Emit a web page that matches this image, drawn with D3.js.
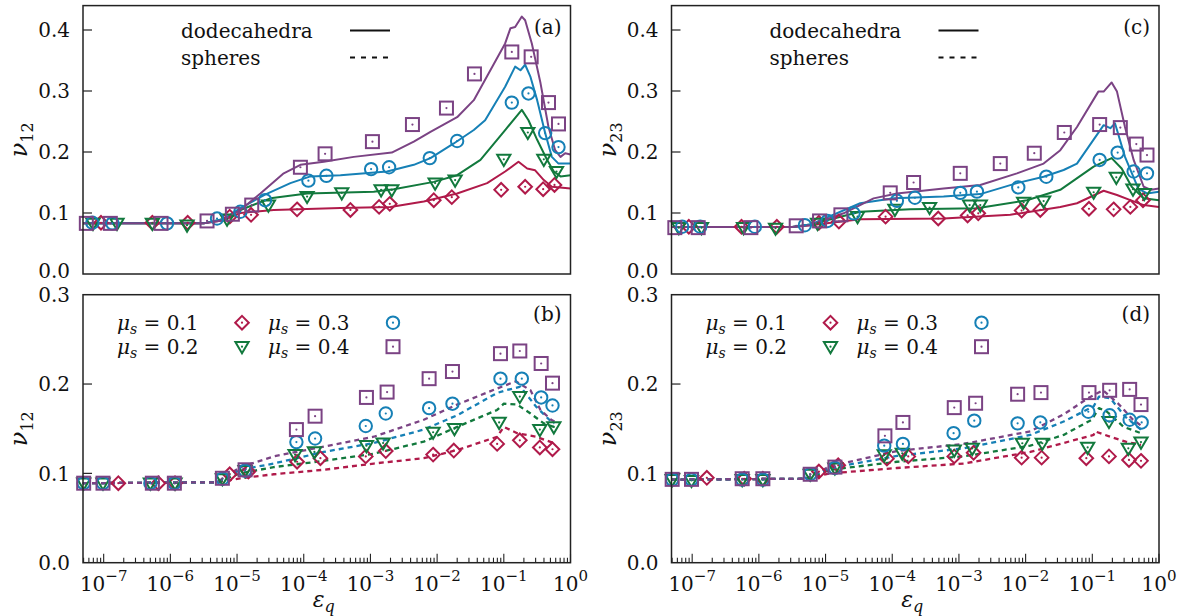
<!DOCTYPE html>
<html><head><meta charset="utf-8">
<script src="https://cdn.jsdelivr.net/npm/d3@7"></script>
<style>
body{margin:0;background:#fff}
svg{display:block}
text{font-family:"DejaVu Serif","Liberation Serif",serif;fill:#111}
</style>
</head><body><svg id="c" width="1190" height="616"></svg>
<script>
// ---------------- DATA (x as log10(eps_q), y as nu) ----------------
const muLabels = ["0.1", "0.2", "0.3", "0.4"];
const xTickExponents = [-7, -6, -5, -4, -3, -2, -1, 0];
const yTicksTop = [0.0, 0.1, 0.2, 0.3, 0.4];
const yTicksBottom = [0.0, 0.1, 0.2, 0.3];
const panelTags = ["(a)", "(b)", "(c)", "(d)"];
const shapeLegend = ["dodecahedra", "spheres"];

// panel (a): nu_12, dodecahedra
const a_mk_01 = [[-7.04,0.084],[-6.27,0.084],[-5.74,0.084],[-5.11,0.094],[-4.79,0.097],[-4.10,0.106],[-3.30,0.105],[-2.87,0.110],[-2.71,0.115],[-2.05,0.121],[-1.78,0.126],[-1.04,0.138],[-0.68,0.143],[-0.41,0.139],[-0.24,0.146]];
const a_mk_02 = [[-7.16,0.083],[-6.80,0.083],[-6.27,0.083],[-5.75,0.080],[-5.15,0.090],[-4.53,0.113],[-3.95,0.127],[-3.43,0.133],[-2.84,0.138],[-2.68,0.138],[-2.03,0.149],[-1.73,0.154],[-1.00,0.188],[-0.64,0.232],[-0.40,0.188],[-0.21,0.168]];
const a_mk_03 = [[-7.17,0.084],[-6.87,0.083],[-6.05,0.083],[-5.30,0.091],[-4.95,0.102],[-4.58,0.121],[-3.93,0.153],[-3.66,0.161],[-2.99,0.172],[-2.72,0.175],[-2.11,0.190],[-1.70,0.218],[-0.88,0.281],[-0.63,0.296],[-0.38,0.231],[-0.18,0.208]];
const a_mk_04 = [[-7.26,0.083],[-6.90,0.083],[-6.14,0.083],[-5.45,0.087],[-5.07,0.098],[-4.78,0.113],[-4.05,0.175],[-3.68,0.197],[-2.97,0.217],[-2.37,0.245],[-1.86,0.272],[-1.44,0.328],[-0.88,0.364],[-0.59,0.356],[-0.33,0.281],[-0.18,0.246]];
const a_ln_01 = [[-7.31,0.083],[-5.5,0.083],[-5.2,0.088],[-4.95,0.100],[-4.45,0.105],[-3.45,0.108],[-2.7,0.110],[-2.2,0.119],[-1.7,0.132],[-1.25,0.149],[-0.98,0.168],[-0.78,0.184],[-0.65,0.173],[-0.53,0.170],[-0.40,0.154],[-0.28,0.143],[0,0.140]];
const a_ln_02 = [[-7.31,0.083],[-5.5,0.083],[-5.2,0.090],[-4.95,0.105],[-4.5,0.124],[-3.95,0.132],[-2.95,0.135],[-2.65,0.139],[-2.05,0.151],[-1.7,0.162],[-1.35,0.187],[-0.98,0.236],[-0.73,0.269],[-0.63,0.252],[-0.50,0.220],[-0.35,0.187],[-0.25,0.168],[-0.15,0.160],[0,0.162]];
const a_ln_03 = [[-7.31,0.083],[-5.5,0.083],[-5.2,0.090],[-4.95,0.108],[-4.58,0.130],[-4.2,0.149],[-3.9,0.160],[-3.45,0.162],[-2.75,0.168],[-2.35,0.179],[-2.1,0.190],[-1.75,0.214],[-1.45,0.236],[-1.28,0.252],[-0.98,0.307],[-0.83,0.340],[-0.75,0.334],[-0.68,0.343],[-0.60,0.323],[-0.50,0.285],[-0.38,0.231],[-0.28,0.192],[-0.18,0.181],[0,0.181]];
const a_ln_04 = [[-7.31,0.083],[-5.5,0.083],[-5.2,0.088],[-4.95,0.105],[-4.65,0.132],[-4.3,0.165],[-4.05,0.179],[-3.7,0.184],[-3.25,0.192],[-2.68,0.199],[-2.35,0.217],[-2.1,0.233],[-1.7,0.257],[-1.45,0.285],[-0.98,0.378],[-0.90,0.403],[-0.83,0.405],[-0.73,0.422],[-0.68,0.416],[-0.58,0.378],[-0.45,0.313],[-0.33,0.241],[-0.23,0.203],[-0.15,0.192],[-0.08,0.198],[0,0.196]];

// panel (b): nu_12, spheres
const b_mk_01 = [[-6.78,0.089],[-6.18,0.089],[-5.93,0.089],[-5.11,0.099],[-4.83,0.102],[-4.10,0.113],[-3.75,0.117],[-3.07,0.119],[-2.77,0.125],[-2.06,0.121],[-1.75,0.1255],[-1.10,0.133],[-0.76,0.137],[-0.46,0.129],[-0.27,0.127]];
const b_mk_02 = [[-7.30,0.089],[-7.01,0.089],[-6.30,0.089],[-5.93,0.089],[-5.22,0.094],[-4.88,0.103],[-4.13,0.121],[-3.84,0.124],[-3.06,0.131],[-2.81,0.134],[-2.06,0.146],[-1.74,0.150],[-1.07,0.157],[-0.76,0.186],[-0.46,0.149],[-0.25,0.152]];
const b_mk_03 = [[-7.30,0.089],[-7.01,0.089],[-6.30,0.089],[-5.94,0.089],[-5.22,0.094],[-4.88,0.103],[-4.11,0.135],[-3.83,0.139],[-3.07,0.153],[-2.77,0.167],[-2.12,0.173],[-1.77,0.178],[-1.05,0.206],[-0.73,0.206],[-0.44,0.185],[-0.27,0.176]];
const b_mk_04 = [[-7.30,0.089],[-7.01,0.089],[-6.27,0.089],[-5.94,0.089],[-5.22,0.0945],[-4.88,0.104],[-4.11,0.149],[-3.83,0.164],[-3.06,0.185],[-2.75,0.191],[-2.12,0.206],[-1.77,0.214],[-1.05,0.234],[-0.76,0.237],[-0.44,0.223],[-0.27,0.201]];
const b_ln_01 = [[-7.31,0.089],[-5.3,0.090],[-4.95,0.0945],[-4.45,0.099],[-3.7,0.104],[-2.95,0.111],[-2.2,0.117],[-1.7,0.126],[-1.1,0.141],[-1.0,0.152],[-0.8,0.145],[-0.52,0.141],[-0.29,0.135],[-0.24,0.133]];
const b_ln_02 = [[-7.31,0.089],[-5.3,0.090],[-4.95,0.100],[-4.45,0.107],[-3.7,0.114],[-2.95,0.122],[-2.2,0.1355],[-1.7,0.152],[-1.1,0.171],[-1.0,0.178],[-0.8,0.177],[-0.6,0.167],[-0.4,0.156],[-0.25,0.152]];
const b_ln_03 = [[-7.31,0.089],[-5.3,0.090],[-4.95,0.104],[-4.45,0.111],[-3.7,0.124],[-2.95,0.134],[-2.2,0.149],[-1.7,0.165],[-1.1,0.190],[-0.97,0.193],[-0.75,0.197],[-0.52,0.175],[-0.29,0.158],[-0.24,0.156]];
const b_ln_04 = [[-7.31,0.089],[-5.3,0.090],[-4.95,0.107],[-4.45,0.119],[-3.7,0.130],[-2.95,0.141],[-2.2,0.160],[-1.7,0.177],[-1.1,0.195],[-0.82,0.203],[-0.6,0.193],[-0.45,0.171],[-0.29,0.160],[-0.24,0.158]];

// panel (c): nu_23, dodecahedra
const c_mk_01 = [[-7.05,0.0775],[-6.26,0.0775],[-5.73,0.0775],[-5.10,0.084],[-4.80,0.086],[-4.10,0.094],[-3.31,0.091],[-2.87,0.096],[-2.71,0.0995],[-2.06,0.104],[-1.78,0.105],[-1.05,0.107],[-0.68,0.106],[-0.43,0.110],[-0.24,0.121]];
const c_mk_02 = [[-7.20,0.076],[-6.86,0.076],[-6.23,0.076],[-5.75,0.075],[-5.12,0.083],[-4.52,0.094],[-3.96,0.106],[-3.44,0.109],[-2.84,0.113],[-2.68,0.113],[-2.03,0.1175],[-1.73,0.1195],[-0.98,0.134],[-0.64,0.1585],[-0.39,0.139],[-0.22,0.132]];
const c_mk_03 = [[-7.15,0.0775],[-6.88,0.0775],[-6.06,0.0775],[-5.31,0.080],[-4.97,0.087],[-4.58,0.0995],[-3.93,0.120],[-3.66,0.125],[-2.98,0.133],[-2.73,0.135],[-2.11,0.142],[-1.69,0.1595],[-0.89,0.187],[-0.62,0.199],[-0.38,0.168],[-0.18,0.165]];
const c_mk_04 = [[-7.26,0.076],[-6.91,0.076],[-6.12,0.076],[-5.44,0.079],[-5.09,0.087],[-4.77,0.097],[-4.03,0.133],[-3.68,0.150],[-2.98,0.165],[-2.38,0.181],[-1.87,0.198],[-1.42,0.232],[-0.89,0.245],[-0.58,0.240],[-0.34,0.213],[-0.18,0.195]];
const c_ln_01 = [[-7.31,0.077],[-5.5,0.077],[-5.23,0.080],[-4.48,0.0897],[-3.23,0.091],[-2.23,0.097],[-1.48,0.110],[-1.23,0.116],[-0.83,0.1365],[-0.63,0.1295],[-0.43,0.121],[-0.23,0.113],[0,0.110]];
const c_ln_02 = [[-7.31,0.077],[-5.5,0.077],[-5.23,0.081],[-4.48,0.102],[-3.73,0.106],[-2.73,0.1077],[-1.98,0.121],[-1.48,0.138],[-0.98,0.176],[-0.71,0.190],[-0.56,0.173],[-0.41,0.143],[-0.23,0.124],[0,0.121]];
const c_ln_03 = [[-7.31,0.077],[-5.5,0.077],[-5.23,0.081],[-4.48,0.116],[-3.98,0.124],[-3.23,0.127],[-2.68,0.131],[-2.13,0.149],[-1.73,0.1595],[-1.43,0.1705],[-1.23,0.181],[-0.83,0.244],[-0.73,0.239],[-0.66,0.247],[-0.51,0.192],[-0.31,0.140],[-0.18,0.132],[0,0.135]];
const c_ln_04 = [[-7.31,0.077],[-5.5,0.077],[-5.23,0.080],[-4.73,0.0995],[-4.28,0.124],[-3.93,0.132],[-3.23,0.140],[-2.68,0.146],[-2.13,0.165],[-1.73,0.181],[-1.48,0.203],[-1.23,0.241],[-0.91,0.299],[-0.83,0.299],[-0.71,0.314],[-0.63,0.299],[-0.51,0.241],[-0.38,0.187],[-0.23,0.143],[-0.12,0.138],[0,0.140]];

// panel (d): nu_23, spheres
const d_mk_01 = [[-6.78,0.095],[-6.22,0.094],[-5.94,0.094],[-5.10,0.102],[-4.81,0.109],[-4.08,0.1165],[-3.76,0.119],[-3.07,0.119],[-2.78,0.123],[-2.06,0.1176],[-1.76,0.1176],[-1.09,0.117],[-0.75,0.119],[-0.45,0.115],[-0.27,0.114]];
const d_mk_02 = [[-7.30,0.093],[-7.01,0.092],[-6.25,0.093],[-5.94,0.093],[-5.23,0.099],[-4.86,0.106],[-4.12,0.1206],[-3.85,0.1225],[-3.07,0.126],[-2.80,0.128],[-2.05,0.1337],[-1.75,0.1337],[-1.07,0.129],[-0.75,0.158],[-0.46,0.128],[-0.27,0.135]];
const d_mk_03 = [[-7.30,0.093],[-7.01,0.093],[-6.25,0.093],[-5.94,0.093],[-5.23,0.099],[-4.86,0.106],[-4.12,0.131],[-3.84,0.133],[-3.08,0.145],[-2.77,0.159],[-2.12,0.156],[-1.78,0.157],[-1.06,0.169],[-0.74,0.165],[-0.44,0.160],[-0.26,0.157]];
const d_mk_04 = [[-7.30,0.0933],[-7.01,0.0933],[-6.25,0.094],[-5.94,0.094],[-5.23,0.099],[-4.86,0.107],[-4.11,0.142],[-3.84,0.157],[-3.07,0.1736],[-2.75,0.1785],[-2.12,0.1886],[-1.77,0.1904],[-1.05,0.1904],[-0.74,0.193],[-0.44,0.194],[-0.27,0.177]];
const d_ln_01 = [[-7.31,0.093],[-5.3,0.094],[-4.93,0.100],[-3.93,0.106],[-2.93,0.111],[-1.93,0.124],[-1.43,0.134],[-0.98,0.143],[-0.96,0.147],[-0.73,0.141],[-0.5,0.1355],[-0.27,0.132]];
const d_ln_02 = [[-7.31,0.093],[-5.3,0.094],[-4.93,0.104],[-3.93,0.113],[-2.93,0.119],[-1.93,0.131],[-1.43,0.143],[-1.01,0.160],[-0.9,0.173],[-0.78,0.169],[-0.53,0.152],[-0.27,0.145]];
const d_ln_03 = [[-7.31,0.093],[-5.3,0.094],[-4.93,0.106],[-3.93,0.1195],[-2.93,0.128],[-1.93,0.143],[-1.43,0.158],[-0.98,0.175],[-0.9,0.186],[-0.73,0.184],[-0.5,0.163],[-0.27,0.149]];
const d_ln_04 = [[-7.31,0.093],[-5.3,0.094],[-4.93,0.108],[-3.93,0.125],[-2.93,0.133],[-1.93,0.147],[-1.43,0.166],[-1.07,0.184],[-0.84,0.193],[-0.61,0.178],[-0.39,0.160],[-0.24,0.152]];

// ---------------- STYLE / LAYOUT ----------------
const colors = ["#b01a4a", "#12793d", "#1680b6", "#7b4384"];
const shapes = ["diamond", "triangle", "circle", "square"];
const svg = d3.select("#c");
const FS = 20;

const panels = [
  {tag: panelTags[0], x0: 83, x1: 570.5, y0: 5.6, y1: 274, ymax: 0.44, yticks: yTicksTop, sub: "12", dashed: false, mk: [a_mk_01, a_mk_02, a_mk_03, a_mk_04], ln: [a_ln_01, a_ln_02, a_ln_03, a_ln_04]},
  {tag: panelTags[1], x0: 83, x1: 570.5, y0: 294.7, y1: 562.7, ymax: 0.3, yticks: yTicksBottom, sub: "12", dashed: true, mk: [b_mk_01, b_mk_02, b_mk_03, b_mk_04], ln: [b_ln_01, b_ln_02, b_ln_03, b_ln_04]},
  {tag: panelTags[2], x0: 671.5, x1: 1159, y0: 5.6, y1: 274, ymax: 0.44, yticks: yTicksTop, sub: "23", dashed: false, mk: [c_mk_01, c_mk_02, c_mk_03, c_mk_04], ln: [c_ln_01, c_ln_02, c_ln_03, c_ln_04]},
  {tag: panelTags[3], x0: 671.5, x1: 1159, y0: 294.7, y1: 562.7, ymax: 0.3, yticks: yTicksBottom, sub: "23", dashed: true, mk: [d_mk_01, d_mk_02, d_mk_03, d_mk_04], ln: [d_ln_01, d_ln_02, d_ln_03, d_ln_04]}
];

function drawMarker(g, shape, color, cx, cy) {
  const m = g.append("g").attr("transform", `translate(${cx},${cy})`);
  let el;
  if (shape === "diamond") el = m.append("path").attr("d", "M0,-6.8L6.8,0L0,6.8L-6.8,0Z");
  else if (shape === "triangle") el = m.append("path").attr("d", "M-6.6,-4.6L6.6,-4.6L0,6.6Z");
  else if (shape === "circle") el = m.append("circle").attr("r", 6.2);
  else el = m.append("rect").attr("x", -6.5).attr("y", -6.5).attr("width", 13).attr("height", 13);
  el.attr("fill", "none").attr("stroke", color).attr("stroke-width", 2);
  m.append("circle").attr("r", 1.1).attr("fill", color);
}

panels.forEach((p, pi) => {
  const x = d3.scaleLog().domain([Math.pow(10, -7.31), 1]).range([p.x0, p.x1]);
  const y = d3.scaleLinear().domain([0, p.ymax]).range([p.y1, p.y0]);
  const g = svg.append("g");
  const clipId = "clip" + pi;
  svg.append("clipPath").attr("id", clipId).append("rect")
    .attr("x", p.x0).attr("y", p.y0).attr("width", p.x1 - p.x0).attr("height", p.y1 - p.y0);

  // y ticks (inside) + labels
  p.yticks.forEach(t => {
    const yy = y(t);
    if (t > 0 && yy > p.y0 + 1)
      g.append("line").attr("x1", p.x0).attr("x2", p.x0 + 9).attr("y1", yy).attr("y2", yy)
        .attr("stroke", "#222").attr("stroke-width", 1.2);
    const shift = (!p.dashed && t === 0) ? -3 : 0;
    g.append("text").attr("x", p.x0 - 13).attr("y", yy + shift).attr("dy", "0.36em")
      .attr("text-anchor", "end").attr("font-size", FS).text(t.toFixed(1));
  });

  // x ticks only on the bottom panels
  if (p.dashed) {
    for (let e = -8; e <= 0; e++) {
      for (let k = 1; k <= 9; k++) {
        const v = k * Math.pow(10, e);
        if (v < x.domain()[0] || v > 1) continue;
        const xx = x(v);
        const len = k === 1 ? 9 : 5;
        g.append("line").attr("x1", xx).attr("x2", xx).attr("y1", p.y1).attr("y2", p.y1 - len)
          .attr("stroke", "#222").attr("stroke-width", 1.1);
      }
    }
    xTickExponents.forEach(e => {
      const t = g.append("text").attr("x", x(Math.pow(10, e))).attr("y", 591)
        .attr("text-anchor", "middle").attr("font-size", FS);
      t.append("tspan").text("10");
      t.append("tspan").attr("dy", -10).attr("font-size", 15).text(e === 0 ? "0" : "\u2212" + (-e));
    });
    const xl = g.append("text").attr("x", (p.x0 + p.x1) / 2 - 3).attr("y", 607)
      .attr("text-anchor", "middle").attr("font-size", 22);
    xl.append("tspan").attr("font-style", "italic").text("\u03b5");
    xl.append("tspan").attr("font-style", "italic").attr("font-size", 16).attr("dy", 5).text("q");
  }

  // y label
  const yl = g.append("text").attr("transform", `translate(${p.x0 - 56},${(p.y0 + p.y1) / 2}) rotate(-90)`)
    .attr("text-anchor", "middle").attr("font-size", 24);
  yl.append("tspan").attr("font-style", "italic").text("\u03bd");
  yl.append("tspan").attr("font-size", 16).attr("dy", 6).text(p.sub);

  // lines
  const line = d3.line().x(d => x(Math.pow(10, d[0]))).y(d => y(d[1]));
  const lg = g.append("g").attr("clip-path", `url(#${clipId})`);
  p.ln.forEach((arr, i) => {
    lg.append("path").attr("d", line(arr)).attr("fill", "none").attr("stroke", colors[i])
      .attr("stroke-width", p.dashed ? 2.3 : 2).attr("stroke-linejoin", "round")
      .attr("stroke-dasharray", p.dashed ? "5,4" : null);
  });

  // markers
  const mg = g.append("g");
  p.mk.forEach((arr, i) => {
    arr.forEach(d => drawMarker(mg, shapes[i], colors[i], x(Math.pow(10, d[0])), y(d[1])));
  });

  // frame
  g.append("rect").attr("x", p.x0).attr("y", p.y0).attr("width", p.x1 - p.x0).attr("height", p.y1 - p.y0)
    .attr("fill", "none").attr("stroke", "#222").attr("stroke-width", 1.5);

  // panel tag
  g.append("text").attr("x", p.x1 - 9).attr("y", p.y0 + (p.dashed ? 26 : 28))
    .attr("text-anchor", "end").attr("font-size", FS).text(p.tag);

  // legends
  if (!p.dashed) {
    shapeLegend.forEach((s, i) => {
      const yy = p.y0 + 25 + i * 27;
      g.append("text").attr("x", p.x0 + 98).attr("y", yy + 7).attr("font-size", FS).text(s);
      g.append("line").attr("x1", p.x0 + 267).attr("x2", p.x0 + 307).attr("y1", yy).attr("y2", yy)
        .attr("stroke", "#111").attr("stroke-width", 2).attr("stroke-dasharray", i === 1 ? "5,6" : null);
    });
  } else {
    muLabels.forEach((m, i) => {
      const col = Math.floor(i / 2), row = i % 2;
      const tx = p.x0 + 34 + col * 151;
      const by = p.y0 + 35 + row * 24;
      const t = g.append("text").attr("x", tx).attr("y", by).attr("font-size", FS);
      t.append("tspan").attr("font-style", "italic").text("\u03bc");
      t.append("tspan").attr("font-style", "italic").attr("font-size", 14).attr("dy", 4).text("s");
      t.append("tspan").attr("dy", -4).text(" = " + m);
      drawMarker(g, shapes[i], colors[i], p.x0 + 159 + col * 151, by - 7);
    });
  }
});
</script>
</body></html>
